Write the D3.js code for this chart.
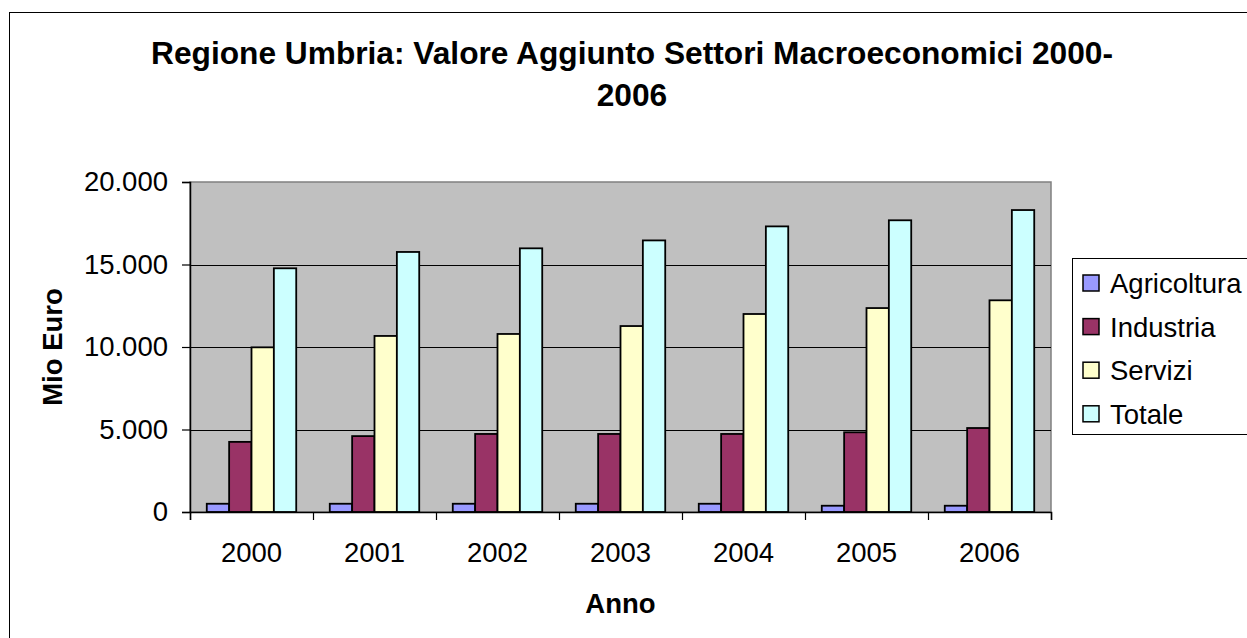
<!DOCTYPE html>
<html>
<head>
<meta charset="utf-8">
<script src="https://cdn.jsdelivr.net/npm/d3@7"></script>
<style>
	body { margin: 0; background: #FFFFFF; }
	svg text { font-family: Arial, "Liberation Sans", sans-serif; fill: #000000; }
</style>
</head>
<body>
<svg id="svgarea" width="1247" height="638"></svg>
<script>
// chart data
const years		= ['2000', '2001', '2002', '2003', '2004', '2005', '2006'];
const series	= ['Agricoltura', 'Industria', 'Servizi', 'Totale'];
const agricoltura	= [500, 500, 500, 500, 500, 380, 380];
const industria		= [4250, 4600, 4730, 4730, 4730, 4830, 5090];
const servizi		= [9980, 10670, 10790, 11270, 12000, 12360, 12830];
const totale		= [14770, 15760, 15980, 16460, 17310, 17680, 18300];
const yTicks	= [0, 5000, 10000, 15000, 20000];
const colors	= ['#9999FF', '#993366', '#FFFFCC', '#CCFFFF'];

const values = [agricoltura, industria, servizi, totale];

// plot area
const plot = { left: 190, top: 182, right: 1051, bottom: 512 };

var svg = d3.select('#svgarea');

// outer chart frame (runs off the right and bottom edges)
svg.append('rect').
	attr('x', 9.5).attr('y', 12.5).
	attr('width', 1260).attr('height', 640).
	attr('fill', '#FFFFFF').attr('stroke', '#000000').attr('stroke-width', 1);

var x0 = d3.scaleBand().domain(years).range([plot.left, plot.right]).padding(0);
// gap width 150% => each bar is bw / 5.5
var gap = x0.bandwidth() * 1.5 / 5.5;
var x1 = d3.scaleBand().domain(series).range([gap / 2, x0.bandwidth() - gap / 2]).padding(0);
var y = d3.scaleLinear().domain([0, 20000]).range([plot.bottom, plot.top]);

var locale = d3.formatLocale({ decimal: ',', thousands: '.', grouping: [3], currency: ['', ''] });
var fmt = locale.format(',');

// background
svg.append('rect').
	attr('x', plot.left).attr('y', plot.top).
	attr('width', plot.right - plot.left).attr('height', plot.bottom - plot.top).
	attr('fill', '#C0C0C0').attr('stroke', '#808080').attr('stroke-width', 1.5);

// gridlines
svg.append('g').selectAll('line').
	data(yTicks.filter(function(d){ return d > 0 && d < 20000; })).
	enter().append('line').
	attr('x1', plot.left).attr('x2', plot.right).
	attr('y1', function(d){ return Math.round(y(d)) + 0.5; }).
	attr('y2', function(d){ return Math.round(y(d)) + 0.5; }).
	attr('stroke', '#000000').attr('stroke-width', 1);

// bars
var groups = svg.append('g').selectAll('g').
	data(years).enter().append('g').
	attr('transform', function(d){ return 'translate(' + x0(d) + ',0)'; });

groups.selectAll('rect').
	data(function(d, i){ return series.map(function(s, j){ return { s: s, v: values[j][i], c: colors[j] }; }); }).
	enter().append('rect').
	attr('x', function(d){ return x1(d.s); }).
	attr('y', function(d){ return y(d.v); }).
	attr('width', x1.bandwidth()).
	attr('height', function(d){ return y(0) - y(d.v); }).
	attr('fill', function(d){ return d.c; }).
	attr('stroke', '#000000').attr('stroke-width', 1.8);

// y axis
var yAxis = svg.append('g').
	attr('transform', 'translate(' + plot.left + ',0)').
	call(d3.axisLeft(y).tickValues(yTicks).tickSize(8).tickPadding(14).tickFormat(fmt));
yAxis.select('.domain').attr('stroke', '#000000').attr('stroke-width', 1.5);
yAxis.selectAll('.tick line').attr('stroke', '#000000').attr('stroke-width', 1.2);
yAxis.selectAll('text').attr('font-size', '27.5px').attr('font-family', 'Arial, "Liberation Sans", sans-serif');

// x axis: ticks on category boundaries
var xb = d3.scaleLinear().domain([0, years.length]).range([plot.left, plot.right]);
var xAxis = svg.append('g').
	attr('transform', 'translate(0,' + plot.bottom + ')').
	call(d3.axisBottom(xb).tickValues(d3.range(years.length + 1)).tickSize(8).tickFormat(''));
xAxis.select('.domain').attr('stroke', '#000000').attr('stroke-width', 1.5);
xAxis.selectAll('.tick line').attr('stroke', '#000000').attr('stroke-width', 1.2);

svg.append('g').selectAll('text').
	data(years).enter().append('text').
	attr('x', function(d){ return x0(d) + x0.bandwidth() / 2; }).
	attr('y', 562).
	attr('text-anchor', 'middle').
	attr('font-size', '27.5px').
	text(function(d){ return d; });

// axis titles
svg.append('text').
	attr('x', (plot.left + plot.right) / 2).attr('y', 613).
	attr('text-anchor', 'middle').attr('font-size', '27.5px').attr('font-weight', 'bold').
	text('Anno');

svg.append('text').
	attr('transform', 'translate(62,' + (plot.top + plot.bottom) / 2 + ') rotate(-90)').
	attr('text-anchor', 'middle').attr('font-size', '27.5px').attr('font-weight', 'bold').
	text('Mio Euro');

// title
var title = svg.append('text').
	attr('text-anchor', 'middle').attr('font-size', '31.7px').attr('font-weight', 'bold');
title.append('tspan').attr('x', 632).attr('y', 64).
	text('Regione Umbria: Valore Aggiunto Settori Macroeconomici 2000-');
title.append('tspan').attr('x', 632).attr('y', 106).text('2006');

// legend
svg.append('rect').
	attr('x', 1072.5).attr('y', 258.5).
	attr('width', 200).attr('height', 176).
	attr('fill', '#FFFFFF').attr('stroke', '#000000').attr('stroke-width', 1);

var legend = svg.append('g').selectAll('g').
	data(series).enter().append('g').
	attr('transform', function(d, i){ return 'translate(1083,' + (283 + i * 43.6) + ')'; });
legend.append('rect').
	attr('x', 0).attr('y', -8).attr('width', 16).attr('height', 16).
	attr('fill', function(d, i){ return colors[i]; }).
	attr('stroke', '#000000').attr('stroke-width', 1.5);
legend.append('text').
	attr('x', 27).attr('y', 10).
	attr('font-size', '27.5px').
	text(function(d){ return d; });
</script>
</body>
</html>
